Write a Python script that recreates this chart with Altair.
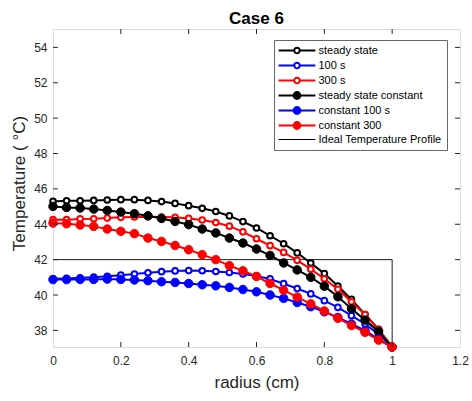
import altair as alt
import pandas as pd

# ---------------- data ----------------
radius = [0.0, 0.04, 0.08, 0.12, 0.16, 0.2, 0.24, 0.28, 0.32, 0.36, 0.4, 0.44, 0.48,
          0.52, 0.56, 0.6, 0.64, 0.68, 0.72, 0.76, 0.8, 0.84, 0.88, 0.92, 0.96, 1.0]
steady_state = [45.29, 45.33, 45.33, 45.35, 45.37, 45.39, 45.39, 45.35, 45.28, 45.18, 45.05, 44.90, 44.72,
                44.47, 44.15, 43.79, 43.35, 42.90, 42.38, 41.81, 41.21, 40.51, 39.75, 38.90, 38.06, 37.06]
heat_100s = [40.92, 40.94, 40.97, 41.01, 41.06, 41.12, 41.19, 41.26, 41.32, 41.36, 41.38, 41.37, 41.33,
             41.27, 41.19, 41.08, 40.91, 40.64, 40.37, 40.06, 39.68, 39.30, 38.83, 38.36, 37.79, 37.06]
heat_300s = [44.26, 44.26, 44.30, 44.31, 44.35, 44.39, 44.41, 44.43, 44.41, 44.39, 44.33, 44.24, 44.10,
             43.89, 43.57, 43.18, 42.79, 42.41, 41.96, 41.46, 40.92, 40.32, 39.62, 38.90, 38.05, 37.06]
steady_const = [45.01, 44.95, 44.92, 44.86, 44.78, 44.69, 44.60, 44.48, 44.33, 44.16, 43.98, 43.73, 43.51,
                43.22, 42.94, 42.60, 42.24, 41.81, 41.42, 41.00, 40.50, 39.90, 39.22, 38.58, 37.94, 37.06]
const_100s = [40.87, 40.87, 40.88, 40.88, 40.90, 40.88, 40.85, 40.81, 40.75, 40.71, 40.65, 40.58, 40.52,
              40.43, 40.31, 40.18, 40.00, 39.81, 39.58, 39.34, 39.05, 38.73, 38.36, 37.98, 37.51, 37.06]
const_300 = [44.07, 44.03, 43.96, 43.88, 43.73, 43.60, 43.47, 43.22, 43.03, 42.80, 42.56, 42.28, 42.00,
             41.66, 41.37, 41.05, 40.65, 40.27, 39.88, 39.50, 39.10, 38.68, 38.28, 37.89, 37.45, 37.06]
ideal_r = [0.0, 1.0, 1.0]
ideal_T = [42.0, 42.0, 37.06]

series_names = ["steady state", "100 s", "300 s", "steady state constant",
                "constant 100 s", "constant 300", "Ideal Temperature Profile"]
series_colors = ["#000000", "#0000FF", "#FF0000", "#000000", "#0000FF", "#FF0000", "#000000"]
series_fills = ["white", "white", "white", "#000000", "#0000FF", "#FF0000", "transparent"]
series_filled = [False, False, False, True, True, True]
series_values = [steady_state, heat_100s, heat_300s, steady_const, const_100s, const_300]

x_tick_values = [0, 0.2, 0.4, 0.6, 0.8, 1.0, 1.2]
y_tick_values = [38, 40, 42, 44, 46, 48, 50, 52, 54]
inner_x_ticks = [0.2, 0.4, 0.6, 0.8, 1.0]

# ---------------- table ----------------
rows = []
for name, vals in zip(series_names[:6], series_values):
    for i, (r, t) in enumerate(zip(radius, vals)):
        rows.append({"series": name, "r": r, "T": t, "idx": i})
for i, (r, t) in enumerate(zip(ideal_r, ideal_T)):
    rows.append({"series": series_names[6], "r": r, "T": t, "idx": i})
df = pd.DataFrame(rows)

W, H = 407, 318
AX = "#262626"
FONT = "Liberation Sans"

x_scale = alt.Scale(domain=[0, 1.2], nice=False, zero=False)
y_scale = alt.Scale(domain=[37.06, 55.04], nice=False, zero=False)

x_axis = alt.Axis(values=x_tick_values, format="~g", title="radius (cm)", grid=False, domain=False,
                  ticks=False, labelPadding=8, labelFlush=False, labelOverlap=False,
                  labelFontSize=12, labelColor=AX, labelFont=FONT,
                  titleFontSize=17, titleFontWeight="normal", titleColor=AX, titleFont=FONT,
                  titleY=40, titleBaseline="alphabetic")
y_axis = alt.Axis(values=y_tick_values, format="d", title="Temperature ( °C)", grid=False, domain=False,
                  ticks=False, labelPadding=6, labelFlush=False, labelOverlap=False,
                  labelFontSize=12, labelColor=AX, labelFont=FONT,
                  titleFontSize=17, titleFontWeight="normal", titleColor=AX, titleFont=FONT,
                  titleX=-29, titleY=154, titleAngle=270, titleAlign="center", titleBaseline="alphabetic")

X = alt.X("r:Q", scale=x_scale, axis=x_axis)
Y = alt.Y("T:Q", scale=y_scale, axis=y_axis)

# legend symbol paths (line + marker), unit = sqrt(symbolSize)/2 px
OPEN = "M-4.6,0L-0.68,0M0.68,0L4.6,0M0.68,0A0.68,0.68,0,1,1,-0.68,0A0.68,0.68,0,1,1,0.68,0"
FILLED = "M-4.6,0L4.6,0M0.85,0A0.85,0.85,0,1,1,-0.85,0A0.85,0.85,0,1,1,0.85,0"
LINE = "M-4.6,0L4.6,0"
series_shapes = [OPEN, OPEN, OPEN, FILLED, FILLED, FILLED, LINE]
series_widths = [2, 2, 2, 2, 2, 2, 1]

legend = alt.Legend(
    title=None, orient="none", legendX=221, legendY=11,
    symbolSize=64, symbolOffset=12.5, labelOffset=16, padding=5, rowPadding=0,
    labelFont=FONT, labelFontSize=11, labelColor="#000000",
    fillColor="white", strokeColor="#666666", symbolOpacity=1,
)

base = alt.Chart(df)
layers = []

# legend-only layer (no rows drawn)
layers.append(
    base.transform_filter("false")
    .mark_point(opacity=1, filled=True)
    .encode(
        x=X, y=Y,
        stroke=alt.Stroke("series:N", scale=alt.Scale(domain=series_names, range=series_colors), legend=legend),
        fill=alt.Fill("series:N", scale=alt.Scale(domain=series_names, range=series_fills), legend=legend),
        shape=alt.Shape("series:N", scale=alt.Scale(domain=series_names, range=series_shapes), legend=legend),
        strokeWidth=alt.StrokeWidth("series:N", scale=alt.Scale(type="ordinal", domain=series_names, range=series_widths), legend=legend),
    )
)

# ideal profile (underneath)
layers.append(
    base.transform_filter(alt.datum.series == series_names[6])
    .mark_line(strokeWidth=1, color="#1a1a1a")
    .encode(x=X, y=Y, order="idx:Q")
)

for name, col, filled in zip(series_names[:6], series_colors[:6], series_filled):
    sub = base.transform_filter(alt.datum.series == name)
    layers.append(sub.mark_line(strokeWidth=2, color=col).encode(x=X, y=Y, order="idx:Q"))
    if filled:
        pts = sub.mark_point(shape="circle", filled=True, size=72, fill=col, stroke=col,
                             strokeWidth=1, opacity=1)
    else:
        pts = sub.mark_point(shape="circle", filled=True, size=32, fill="white", stroke=col,
                             strokeWidth=2, opacity=1)
    layers.append(pts.encode(x=X, y=Y))

# inward tick marks on all four sides
xt = alt.Chart(pd.DataFrame({"r": inner_x_ticks}))
yt = alt.Chart(pd.DataFrame({"T": y_tick_values}))
layers.append(xt.mark_rule(color=AX, strokeWidth=1).encode(x=X, y=alt.value(H), y2=alt.value(H - 5)))
layers.append(xt.mark_rule(color=AX, strokeWidth=1).encode(x=X, y=alt.value(0), y2=alt.value(5)))
layers.append(yt.mark_rule(color=AX, strokeWidth=1).encode(y=Y, x=alt.value(0), x2=alt.value(5)))
layers.append(yt.mark_rule(color=AX, strokeWidth=1).encode(y=Y, x=alt.value(W), x2=alt.value(W - 5)))

chart = alt.layer(*layers).properties(
    width=W, height=H,
    title=alt.TitleParams("Case 6", fontSize=17, fontWeight="bold", font=FONT, color="#000000",
                          anchor="middle", offset=7, dy=19, baseline="alphabetic"),
    padding={"left": 53, "top": 29, "right": 12, "bottom": 54},
    autosize=alt.AutoSizeParams(type="none"),
).configure_view(stroke=AX, strokeWidth=1).configure(background="white")

chart.save("out.html", embed_options={"renderer": "svg", "actions": False})
